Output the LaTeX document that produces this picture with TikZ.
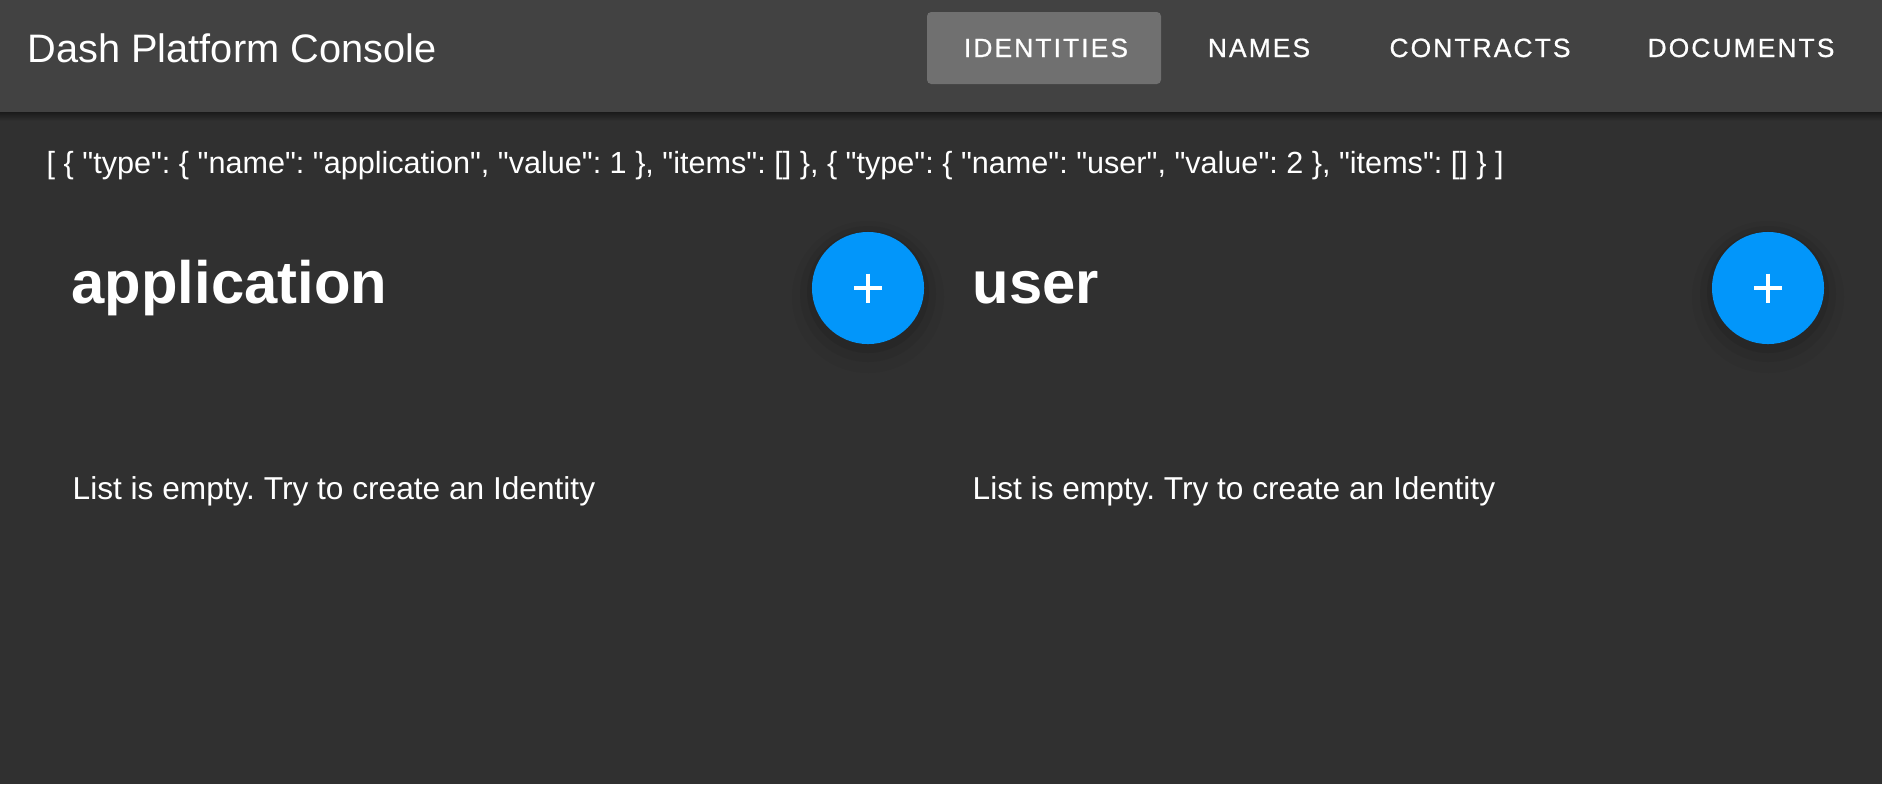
\documentclass[tikz,border=0pt]{standalone}
\usepackage{fontspec}
\setmainfont{Liberation Sans}
\newfontfamily\tabfont[LetterSpace=8, FakeBold=0.8]{Liberation Sans}
\newfontfamily\jsonfont{Liberation Sans}
\frenchspacing

\definecolor{pagebg}{HTML}{303030}
\definecolor{barbg}{HTML}{424242}
\definecolor{tabon}{HTML}{707070}
\definecolor{fabblue}{HTML}{0296FA}

\tikzset{
    tab/.style={text=white, font=\tabfont\fontsize{7.5}{9}\selectfont, anchor=base, inner sep=0pt},
    heading/.style={text=white, font=\bfseries\fontsize{17}{20}\selectfont, anchor=base west, inner sep=0pt},
    plain/.style={text=white, font=\fontsize{9}{11}\selectfont, anchor=base west, inner sep=0pt},
    fab/.style={circle, fill=fabblue, minimum size=1.12cm, inner sep=0pt,
        path picture={
            \draw[white, line width=1.2pt] ([xshift=-0.14cm]path picture bounding box.center) -- ++(0.28cm,0);
            \draw[white, line width=1.2pt] ([yshift=0.145cm]path picture bounding box.center) -- ++(0,-0.29cm);
        }},
}

\begin{document}
\begin{tikzpicture}[x=0.01cm, y=-0.01cm]

    \useasboundingbox (0,0) rectangle (1882,784);
    \fill[pagebg] (0,0) rectangle (1882,784);

    % app bar
    \begin{scope}[]
    \shade[top color=black!45!pagebg, bottom color=pagebg] (0,112) rectangle (1882,121);
    \fill[barbg] (0,0) rectangle (1882,112);
    \fill[tabon, rounded corners=1.2pt] (927,12) rectangle (1161,84);
    \end{scope}

    \node[text=white, font=\fontsize{11.3}{13}\selectfont, anchor=base west, inner sep=0pt] (title) at (27,62) {Dash Platform Console};

    \node[tab] (identities) at (1046,57) {IDENTITIES};
    \node[tab] (names) at (1259,57) {NAMES};
    \node[tab] (contracts) at (1480,57) {CONTRACTS};
    \node[tab] (documents) at (1741,57) {DOCUMENTS};

    \node[plain, font=\jsonfont\fontsize{8.7}{11}\selectfont] (json) at (46,173) {[ \{ "type": \{ "name": "application", "value": 1 \}, "items": [] \}, \{ "type": \{ "name": "user", "value": 2 \}, "items": [] \} ]};

    % shadows under the buttons
    \foreach \cx in {868,1768}{
        \fill[black, opacity=0.035] (\cx,297) circle (76);
        \fill[black, opacity=0.05] (\cx,294) circle (68);
        \fill[black, opacity=0.08] (\cx,292) circle (61);
    }

    \node[fab] (addapp) at (868,288) {};
    \node[fab] (adduser) at (1768,288) {};

    \node[heading] (apphead) at (71,303) {application};
    \node[heading] (userhead) at (972,303) {user};

    \node[plain] (appempty) at (72,499) {List is empty. Try to create an Identity};
    \node[plain] (userempty) at (972,499) {List is empty. Try to create an Identity};

\end{tikzpicture}
\end{document}
